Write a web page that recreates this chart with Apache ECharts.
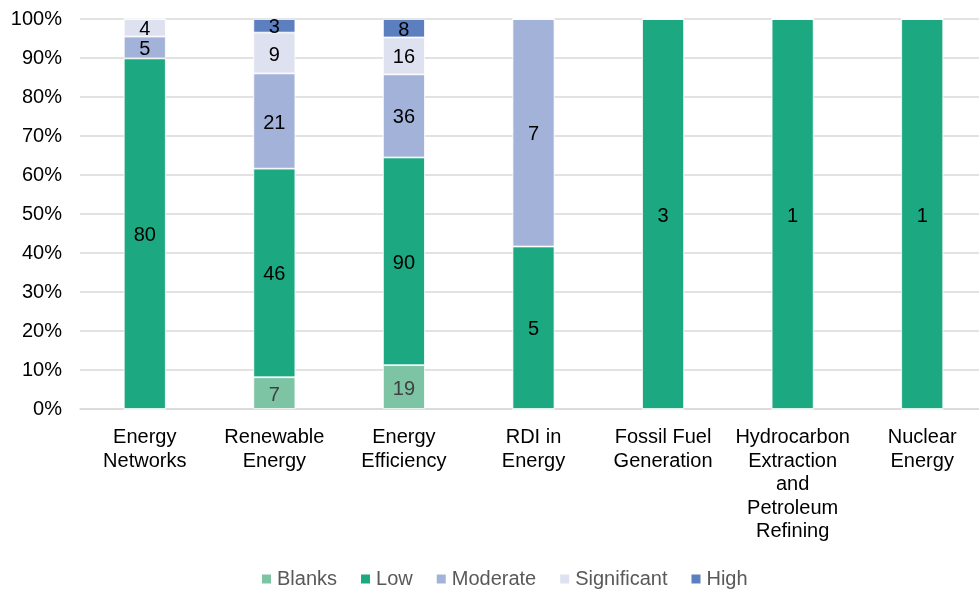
<!DOCTYPE html>
<html><head><meta charset="utf-8">
<script src="https://cdn.jsdelivr.net/npm/echarts@6/dist/echarts.min.js"></script>
<style>html,body{margin:0;padding:0;background:#fff}#c{width:979px;height:589px}</style>
</head><body><div id="c"></div>
<script>
var categories = ['Energy\nNetworks','Renewable\nEnergy','Energy\nEfficiency','RDI in\nEnergy','Fossil Fuel\nGeneration','Hydrocarbon\nExtraction\nand\nPetroleum\nRefining','Nuclear\nEnergy'];
var seriesNames = ['Blanks','Low','Moderate','Significant','High'];
var blanks      = [0, 7, 19, 0, 0, 0, 0];
var low         = [80, 46, 90, 5, 3, 1, 1];
var moderate    = [5, 21, 36, 7, 0, 0, 0];
var significant = [4, 9, 16, 0, 0, 0, 0];
var high        = [0, 3, 8, 0, 0, 0, 0];
var yTicks = ['0%','10%','20%','30%','40%','50%','60%','70%','80%','90%','100%'];

var raw = [blanks, low, moderate, significant, high];
var colors = ['#7DC4A4','#1CA880','#A3B2D8','#DEE1F0','#5B7FBF'];
var labelColors = ['#404040','#000','#000','#000','#000'];
var FONT = 'Liberation Sans, Arial, sans-serif';
var totals = categories.map(function(_, i){ var s=0; raw.forEach(function(a){s+=a[i];}); return s; });

var series = raw.map(function(arr, k){
  return {
    name: seriesNames[k], type: 'bar', stack: 'total', barWidth: 42,
    itemStyle: { color: colors[k], borderColor: '#fff', borderWidth: 0.8 },
    label: {
      show: true, position: 'inside', fontFamily: FONT,
      fontSize: 20, color: labelColors[k], offset: [0, 2],
      formatter: function(p){ var v = arr[p.dataIndex]; return v ? String(v) : ''; }
    },
    emphasis: { disabled: true },
    data: arr.map(function(v, i){ return v / totals[i] * 100; })
  };
});

var chart = echarts.init(document.getElementById('c'), null, {renderer:'canvas'});
chart.setOption({
  animation: false,
  textStyle: { fontFamily: FONT },
  grid: { left: 80, width: 907, top: 19, bottom: 180, containLabel: false, outerBoundsMode: 'none' },
  legend: {
    left: 255, top: 564, itemWidth: 11, itemHeight: 11, itemGap: 22,
    icon: 'rect',
    textStyle: { fontSize: 20, color: '#595959', fontFamily: FONT, lineHeight: 20 },
    data: seriesNames
  },
  xAxis: {
    type: 'category', data: categories,
    axisLine: { show: true, lineStyle: { color: '#d9d9d9', width: 1.5 } },
    axisTick: { show: false },
    axisLabel: { interval: 0, fontSize: 20, lineHeight: 23.5, color: '#000', margin: 17,
      fontFamily: FONT }
  },
  yAxis: {
    type: 'value', min: 0, max: 100, interval: 10,
    axisLine: { show: false }, axisTick: { show: false },
    splitLine: { lineStyle: { color: '#d9d9d9', width: 1.5 } },
    axisLabel: { fontSize: 20, color: '#000', margin: 18, fontFamily: FONT,
      formatter: function(v){ return yTicks[Math.round(v/10)]; } }
  },
  series: series
});
</script></body></html>
